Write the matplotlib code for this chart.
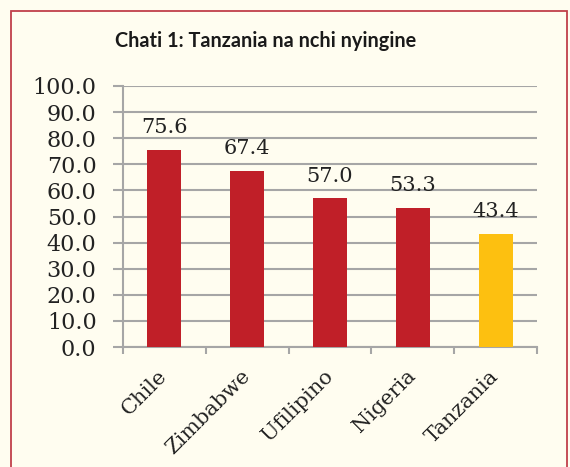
import matplotlib.pyplot as plt
from matplotlib.patches import Rectangle
from matplotlib.transforms import ScaledTranslation

# data
nchi = ['Chile', 'Zimbabwe', 'Ufilipino', 'Nigeria', 'Tanzania']
thamani = [75.6, 67.4, 57.0, 53.3, 43.4]
rangi = ['#C01F28', '#C01F28', '#C01F28', '#C01F28', '#FDC010']
yticks = [0, 10, 20, 30, 40, 50, 60, 70, 80, 90, 100]

bg = '#FFFDF0'
grey = '#A6A6A6'
fig = plt.figure(figsize=(5.70, 4.67), dpi=100, facecolor=bg)

# frame around the chart
fig.patches.append(Rectangle((11/570, -0.1), 556/570, 1.1 - 11/467, transform=fig.transFigure,
                             fill=False, edgecolor='#C0404A', linewidth=1.3))

ax = fig.add_axes([123/570, 1 - 347/467, 414/570, 261/467])
ax.set_facecolor(bg)

x = range(len(nchi))
ax.bar(x, thamani, width=0.41, color=rangi, zorder=3)
for i, v in enumerate(thamani):
    ax.annotate(f'{v:.1f}', (i, v), xytext=(0, 12), textcoords='offset points',
                ha='center', va='baseline', fontsize=15, family='DejaVu Serif', color='#222222')

ax.set_xlim(-0.5, len(nchi) - 0.5)
ax.set_ylim(0, 100)
ax.set_yticks(yticks)
ax.set_yticklabels([f'{t:.1f}' for t in yticks], family='DejaVu Serif', fontsize=16, color='#222222')
ax.yaxis.grid(True, color=grey, linewidth=1.5, zorder=0)

ax.set_xticks([i - 0.5 for i in range(len(nchi) + 1)])
ax.set_xticklabels([])
ax.set_xticks(list(x), minor=True)
ax.set_xticklabels(nchi, minor=True, rotation=45, ha='right', va='center', rotation_mode='anchor',
                   family='DejaVu Serif', fontsize=15, color='#222222')
shift = ScaledTranslation(4/100, 0, fig.dpi_scale_trans)
for lab in ax.get_xticklabels(minor=True):
    lab.set_transform(lab.get_transform() + shift)
ax.tick_params(axis='x', which='minor', length=0, pad=19)
ax.tick_params(axis='x', which='major', length=5, width=1.5, color=grey)
ax.tick_params(axis='y', length=7, width=1.5, color=grey, pad=12)

for s in ['top', 'right']:
    ax.spines[s].set_visible(False)
for s in ['left', 'bottom']:
    ax.spines[s].set_color(grey)
    ax.spines[s].set_linewidth(1.5)

fig.text(266/570, 1 - 47/467, 'Chati 1: Tanzania na nchi nyingine', ha='center', va='baseline',
         fontsize=14.3, fontweight='bold', family='Lato', color='#1A1A1A')

fig.savefig('out.png', dpi=100, facecolor=bg)
